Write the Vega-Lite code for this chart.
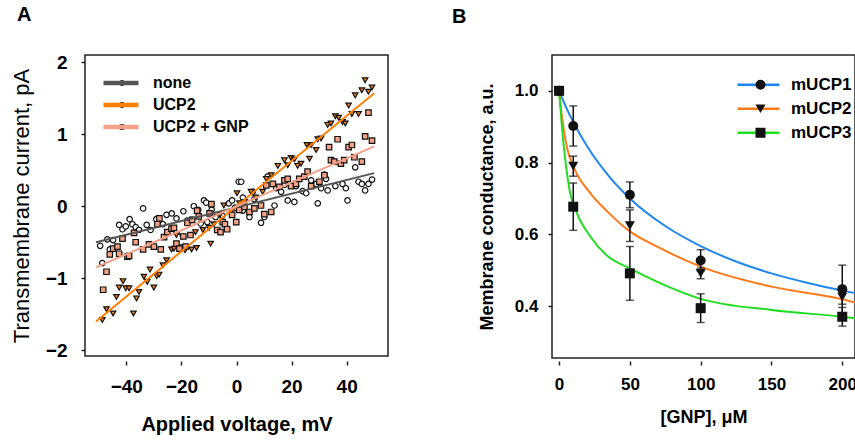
{
  "$schema": "https://vega.github.io/schema/vega-lite/v6.json",
  "padding": {"left": 9, "top": 4, "right": 0, "bottom": 0},
  "spacing": 62,
  "resolve": {"scale": {"color": "independent", "shape": "independent", "fill": "independent"}, "legend": {"color": "independent", "shape": "independent", "fill": "independent"}},
  "config": {
    "font": "Liberation Sans",
    "view": {"stroke": "#222222", "strokeWidth": 1.5},
    "axis": {"grid": false, "domain": false, "tickColor": "#222222", "tickWidth": 1.5, "tickSize": 4, "labelColor": "#000000", "titleColor": "#000000", "labelFontWeight": "bold", "labelFlush": false, "labelOverlap": false}
  },
  "datasets": {
    "ivPoints": [
      {"condition": "none", "voltage": -48.7, "current": -0.79},
      {"condition": "none", "voltage": -49.5, "current": -0.55},
      {"condition": "none", "voltage": -46.9, "current": -0.46},
      {"condition": "none", "voltage": -46.0, "current": -0.60},
      {"condition": "none", "voltage": -44.8, "current": -0.47},
      {"condition": "none", "voltage": -42.6, "current": -0.26},
      {"condition": "none", "voltage": -41.4, "current": -0.32},
      {"condition": "none", "voltage": -40.2, "current": -0.28},
      {"condition": "none", "voltage": -38.8, "current": -0.18},
      {"condition": "none", "voltage": -37.8, "current": -0.25},
      {"condition": "none", "voltage": -36.6, "current": -0.29},
      {"condition": "none", "voltage": -35.4, "current": -0.33},
      {"condition": "none", "voltage": -33.9, "current": -0.03},
      {"condition": "none", "voltage": -32.6, "current": -0.26},
      {"condition": "none", "voltage": -31.2, "current": -0.33},
      {"condition": "none", "voltage": -29.1, "current": -0.18},
      {"condition": "none", "voltage": -27.9, "current": -0.23},
      {"condition": "none", "voltage": -26.7, "current": -0.25},
      {"condition": "none", "voltage": -25.4, "current": -0.12},
      {"condition": "none", "voltage": -23.5, "current": -0.10},
      {"condition": "none", "voltage": -21.8, "current": -0.17},
      {"condition": "none", "voltage": -19.3, "current": -0.07},
      {"condition": "none", "voltage": -17.9, "current": -0.20},
      {"condition": "none", "voltage": -16.3, "current": -0.19},
      {"condition": "none", "voltage": -15.5, "current": 0.00},
      {"condition": "none", "voltage": -13.9, "current": -0.05},
      {"condition": "none", "voltage": -13.0, "current": -0.24},
      {"condition": "none", "voltage": -11.8, "current": 0.08},
      {"condition": "none", "voltage": -11.0, "current": 0.05},
      {"condition": "none", "voltage": -10.6, "current": -0.22},
      {"condition": "none", "voltage": -9.0, "current": -0.05},
      {"condition": "none", "voltage": -7.6, "current": -0.15},
      {"condition": "none", "voltage": -5.2, "current": -0.13},
      {"condition": "none", "voltage": -2.8, "current": 0.04},
      {"condition": "none", "voltage": -1.6, "current": 0.08},
      {"condition": "none", "voltage": -0.5, "current": -0.02},
      {"condition": "none", "voltage": 0.8, "current": 0.34},
      {"condition": "none", "voltage": 1.7, "current": 0.34},
      {"condition": "none", "voltage": 2.3, "current": 0.12},
      {"condition": "none", "voltage": 2.3, "current": -0.06},
      {"condition": "none", "voltage": 4.7, "current": -0.15},
      {"condition": "none", "voltage": 5.9, "current": 0.20},
      {"condition": "none", "voltage": 6.5, "current": 0.10},
      {"condition": "none", "voltage": 8.9, "current": -0.23},
      {"condition": "none", "voltage": 10.1, "current": -0.15},
      {"condition": "none", "voltage": 11.3, "current": 0.41},
      {"condition": "none", "voltage": 13.8, "current": 0.01},
      {"condition": "none", "voltage": 14.4, "current": 0.25},
      {"condition": "none", "voltage": 16.2, "current": 0.20},
      {"condition": "none", "voltage": 17.5, "current": 0.30},
      {"condition": "none", "voltage": 18.6, "current": 0.08},
      {"condition": "none", "voltage": 21.0, "current": 0.06},
      {"condition": "none", "voltage": 21.6, "current": 0.28},
      {"condition": "none", "voltage": 24.0, "current": 0.21},
      {"condition": "none", "voltage": 25.3, "current": 0.18},
      {"condition": "none", "voltage": 27.1, "current": 0.36},
      {"condition": "none", "voltage": 28.9, "current": 0.31},
      {"condition": "none", "voltage": 29.5, "current": 0.04},
      {"condition": "none", "voltage": 30.7, "current": 0.25},
      {"condition": "none", "voltage": 31.9, "current": 0.44},
      {"condition": "none", "voltage": 32.5, "current": 0.38},
      {"condition": "none", "voltage": 33.1, "current": 0.22},
      {"condition": "none", "voltage": 35.9, "current": 0.28},
      {"condition": "none", "voltage": 38.5, "current": 0.31},
      {"condition": "none", "voltage": 39.7, "current": 0.25},
      {"condition": "none", "voltage": 40.3, "current": 0.08},
      {"condition": "none", "voltage": 43.1, "current": 0.54},
      {"condition": "none", "voltage": 44.3, "current": 0.34},
      {"condition": "none", "voltage": 45.5, "current": 0.31},
      {"condition": "none", "voltage": 46.7, "current": 0.22},
      {"condition": "none", "voltage": 47.9, "current": 0.31},
      {"condition": "none", "voltage": 49.2, "current": 0.37},
      {"condition": "UCP2", "voltage": -48.7, "current": -1.58},
      {"condition": "UCP2", "voltage": -47.2, "current": -1.43},
      {"condition": "UCP2", "voltage": -44.8, "current": -1.49},
      {"condition": "UCP2", "voltage": -43.6, "current": -1.26},
      {"condition": "UCP2", "voltage": -42.6, "current": -1.13},
      {"condition": "UCP2", "voltage": -41.2, "current": -1.04},
      {"condition": "UCP2", "voltage": -40.2, "current": -1.14},
      {"condition": "UCP2", "voltage": -39.0, "current": -1.14},
      {"condition": "UCP2", "voltage": -37.4, "current": -1.49},
      {"condition": "UCP2", "voltage": -36.3, "current": -1.28},
      {"condition": "UCP2", "voltage": -35.4, "current": -1.19},
      {"condition": "UCP2", "voltage": -33.6, "current": -0.98},
      {"condition": "UCP2", "voltage": -32.4, "current": -1.05},
      {"condition": "UCP2", "voltage": -31.4, "current": -0.88},
      {"condition": "UCP2", "voltage": -30.0, "current": -1.13},
      {"condition": "UCP2", "voltage": -29.0, "current": -0.97},
      {"condition": "UCP2", "voltage": -28.1, "current": -0.95},
      {"condition": "UCP2", "voltage": -26.7, "current": -0.82},
      {"condition": "UCP2", "voltage": -25.4, "current": -0.75},
      {"condition": "UCP2", "voltage": -23.6, "current": -0.60},
      {"condition": "UCP2", "voltage": -22.7, "current": -0.59},
      {"condition": "UCP2", "voltage": -21.8, "current": -0.40},
      {"condition": "UCP2", "voltage": -20.3, "current": -0.57},
      {"condition": "UCP2", "voltage": -19.7, "current": -0.42},
      {"condition": "UCP2", "voltage": -18.7, "current": -0.61},
      {"condition": "UCP2", "voltage": -16.3, "current": -0.60},
      {"condition": "UCP2", "voltage": -14.9, "current": -0.36},
      {"condition": "UCP2", "voltage": -14.5, "current": -0.58},
      {"condition": "UCP2", "voltage": -12.2, "current": -0.33},
      {"condition": "UCP2", "voltage": -10.0, "current": -0.30},
      {"condition": "UCP2", "voltage": -9.4, "current": -0.52},
      {"condition": "UCP2", "voltage": -8.2, "current": -0.25},
      {"condition": "UCP2", "voltage": -6.0, "current": -0.12},
      {"condition": "UCP2", "voltage": -4.6, "current": 0.01},
      {"condition": "UCP2", "voltage": -2.0, "current": -0.08},
      {"condition": "UCP2", "voltage": 0.2, "current": 0.18},
      {"condition": "UCP2", "voltage": 1.1, "current": 0.04},
      {"condition": "UCP2", "voltage": 3.0, "current": 0.06},
      {"condition": "UCP2", "voltage": 5.3, "current": 0.20},
      {"condition": "UCP2", "voltage": 7.0, "current": 0.12},
      {"condition": "UCP2", "voltage": 9.5, "current": 0.20},
      {"condition": "UCP2", "voltage": 10.8, "current": 0.38},
      {"condition": "UCP2", "voltage": 12.6, "current": 0.43},
      {"condition": "UCP2", "voltage": 15.0, "current": 0.56},
      {"condition": "UCP2", "voltage": 17.4, "current": 0.64},
      {"condition": "UCP2", "voltage": 18.6, "current": 0.57},
      {"condition": "UCP2", "voltage": 19.8, "current": 0.67},
      {"condition": "UCP2", "voltage": 21.0, "current": 0.65},
      {"condition": "UCP2", "voltage": 22.2, "current": 0.56},
      {"condition": "UCP2", "voltage": 23.4, "current": 0.59},
      {"condition": "UCP2", "voltage": 25.6, "current": 0.85},
      {"condition": "UCP2", "voltage": 26.5, "current": 0.66},
      {"condition": "UCP2", "voltage": 27.1, "current": 0.85},
      {"condition": "UCP2", "voltage": 28.9, "current": 0.78},
      {"condition": "UCP2", "voltage": 29.5, "current": 0.93},
      {"condition": "UCP2", "voltage": 30.7, "current": 0.94},
      {"condition": "UCP2", "voltage": 33.1, "current": 1.13},
      {"condition": "UCP2", "voltage": 34.3, "current": 1.15},
      {"condition": "UCP2", "voltage": 35.9, "current": 1.25},
      {"condition": "UCP2", "voltage": 37.1, "current": 1.23},
      {"condition": "UCP2", "voltage": 38.5, "current": 1.17},
      {"condition": "UCP2", "voltage": 39.5, "current": 1.15},
      {"condition": "UCP2", "voltage": 40.7, "current": 1.40},
      {"condition": "UCP2", "voltage": 41.9, "current": 1.28},
      {"condition": "UCP2", "voltage": 43.1, "current": 1.54},
      {"condition": "UCP2", "voltage": 44.3, "current": 1.28},
      {"condition": "UCP2", "voltage": 45.5, "current": 1.61},
      {"condition": "UCP2", "voltage": 46.7, "current": 1.75},
      {"condition": "UCP2", "voltage": 47.9, "current": 1.59},
      {"condition": "UCP2", "voltage": 49.2, "current": 1.65},
      {"condition": "UCP2 + GNP", "voltage": -48.4, "current": -1.16},
      {"condition": "UCP2 + GNP", "voltage": -47.2, "current": -0.91},
      {"condition": "UCP2 + GNP", "voltage": -46.0, "current": -0.67},
      {"condition": "UCP2 + GNP", "voltage": -44.8, "current": -0.59},
      {"condition": "UCP2 + GNP", "voltage": -43.2, "current": -0.56},
      {"condition": "UCP2 + GNP", "voltage": -42.6, "current": -0.66},
      {"condition": "UCP2 + GNP", "voltage": -41.4, "current": -0.45},
      {"condition": "UCP2 + GNP", "voltage": -39.6, "current": -0.70},
      {"condition": "UCP2 + GNP", "voltage": -39.0, "current": -0.69},
      {"condition": "UCP2 + GNP", "voltage": -37.2, "current": -0.37},
      {"condition": "UCP2 + GNP", "voltage": -36.6, "current": -0.50},
      {"condition": "UCP2 + GNP", "voltage": -33.9, "current": -0.60},
      {"condition": "UCP2 + GNP", "voltage": -31.8, "current": -0.53},
      {"condition": "UCP2 + GNP", "voltage": -30.0, "current": -0.56},
      {"condition": "UCP2 + GNP", "voltage": -28.7, "current": -0.25},
      {"condition": "UCP2 + GNP", "voltage": -28.0, "current": -0.17},
      {"condition": "UCP2 + GNP", "voltage": -27.5, "current": -0.60},
      {"condition": "UCP2 + GNP", "voltage": -26.3, "current": -0.43},
      {"condition": "UCP2 + GNP", "voltage": -25.1, "current": -0.36},
      {"condition": "UCP2 + GNP", "voltage": -23.6, "current": -0.31},
      {"condition": "UCP2 + GNP", "voltage": -22.7, "current": -0.30},
      {"condition": "UCP2 + GNP", "voltage": -21.8, "current": -0.52},
      {"condition": "UCP2 + GNP", "voltage": -20.7, "current": -0.59},
      {"condition": "UCP2 + GNP", "voltage": -19.3, "current": -0.42},
      {"condition": "UCP2 + GNP", "voltage": -18.5, "current": -0.56},
      {"condition": "UCP2 + GNP", "voltage": -17.8, "current": -0.23},
      {"condition": "UCP2 + GNP", "voltage": -16.7, "current": -0.40},
      {"condition": "UCP2 + GNP", "voltage": -16.1, "current": -0.19},
      {"condition": "UCP2 + GNP", "voltage": -14.3, "current": -0.06},
      {"condition": "UCP2 + GNP", "voltage": -13.7, "current": -0.14},
      {"condition": "UCP2 + GNP", "voltage": -9.8, "current": -0.10},
      {"condition": "UCP2 + GNP", "voltage": -9.1, "current": 0.03},
      {"condition": "UCP2 + GNP", "voltage": -7.0, "current": -0.33},
      {"condition": "UCP2 + GNP", "voltage": -5.8, "current": -0.36},
      {"condition": "UCP2 + GNP", "voltage": -5.0, "current": -0.22},
      {"condition": "UCP2 + GNP", "voltage": -4.2, "current": -0.25},
      {"condition": "UCP2 + GNP", "voltage": -3.4, "current": -0.32},
      {"condition": "UCP2 + GNP", "voltage": -1.6, "current": -0.12},
      {"condition": "UCP2 + GNP", "voltage": -0.1, "current": -0.22},
      {"condition": "UCP2 + GNP", "voltage": 1.0, "current": -0.05},
      {"condition": "UCP2 + GNP", "voltage": 2.9, "current": -0.01},
      {"condition": "UCP2 + GNP", "voltage": 4.7, "current": -0.08},
      {"condition": "UCP2 + GNP", "voltage": 6.5, "current": -0.03},
      {"condition": "UCP2 + GNP", "voltage": 8.9, "current": 0.01},
      {"condition": "UCP2 + GNP", "voltage": 10.1, "current": -0.11},
      {"condition": "UCP2 + GNP", "voltage": 10.8, "current": 0.29},
      {"condition": "UCP2 + GNP", "voltage": 12.6, "current": -0.08},
      {"condition": "UCP2 + GNP", "voltage": 13.2, "current": 0.31},
      {"condition": "UCP2 + GNP", "voltage": 15.6, "current": 0.27},
      {"condition": "UCP2 + GNP", "voltage": 17.4, "current": 0.36},
      {"condition": "UCP2 + GNP", "voltage": 18.6, "current": 0.38},
      {"condition": "UCP2 + GNP", "voltage": 19.8, "current": 0.28},
      {"condition": "UCP2 + GNP", "voltage": 21.6, "current": 0.31},
      {"condition": "UCP2 + GNP", "voltage": 22.8, "current": 0.38},
      {"condition": "UCP2 + GNP", "voltage": 24.6, "current": 0.41},
      {"condition": "UCP2 + GNP", "voltage": 25.8, "current": 0.48},
      {"condition": "UCP2 + GNP", "voltage": 27.1, "current": 0.28},
      {"condition": "UCP2 + GNP", "voltage": 30.1, "current": 0.34},
      {"condition": "UCP2 + GNP", "voltage": 31.9, "current": 0.43},
      {"condition": "UCP2 + GNP", "voltage": 33.6, "current": 0.82},
      {"condition": "UCP2 + GNP", "voltage": 34.3, "current": 0.64},
      {"condition": "UCP2 + GNP", "voltage": 35.5, "current": 0.62},
      {"condition": "UCP2 + GNP", "voltage": 36.7, "current": 0.93},
      {"condition": "UCP2 + GNP", "voltage": 37.9, "current": 0.59},
      {"condition": "UCP2 + GNP", "voltage": 39.1, "current": 0.64},
      {"condition": "UCP2 + GNP", "voltage": 40.7, "current": 0.82},
      {"condition": "UCP2 + GNP", "voltage": 41.9, "current": 0.85},
      {"condition": "UCP2 + GNP", "voltage": 42.8, "current": 0.68},
      {"condition": "UCP2 + GNP", "voltage": 45.5, "current": 0.62},
      {"condition": "UCP2 + GNP", "voltage": 46.7, "current": 0.97},
      {"condition": "UCP2 + GNP", "voltage": 47.9, "current": 1.30},
      {"condition": "UCP2 + GNP", "voltage": 49.2, "current": 0.91}
    ],
    "ivFits": [
      {"condition": "none", "voltage": -51, "current": -0.5},
      {"condition": "none", "voltage": 50, "current": 0.46},
      {"condition": "UCP2", "voltage": -51, "current": -1.6},
      {"condition": "UCP2", "voltage": 50, "current": 1.57},
      {"condition": "UCP2 + GNP", "voltage": -51, "current": -0.85},
      {"condition": "UCP2 + GNP", "voltage": 50, "current": 0.83}
    ],
    "gnpPoints": [
      {"protein": "mUCP1", "gnp": 0, "conductance": 1.0, "lo": 1.0, "hi": 1.0},
      {"protein": "mUCP1", "gnp": 10, "conductance": 0.902, "lo": 0.846, "hi": 0.958},
      {"protein": "mUCP1", "gnp": 50, "conductance": 0.71, "lo": 0.674, "hi": 0.746},
      {"protein": "mUCP1", "gnp": 100, "conductance": 0.527, "lo": 0.497, "hi": 0.557},
      {"protein": "mUCP1", "gnp": 200, "conductance": 0.447, "lo": 0.38, "hi": 0.514},
      {"protein": "mUCP2", "gnp": 0, "conductance": 1.0, "lo": 1.0, "hi": 1.0},
      {"protein": "mUCP2", "gnp": 10, "conductance": 0.79, "lo": 0.762, "hi": 0.818},
      {"protein": "mUCP2", "gnp": 50, "conductance": 0.624, "lo": 0.58, "hi": 0.668},
      {"protein": "mUCP2", "gnp": 100, "conductance": 0.491, "lo": 0.476, "hi": 0.506},
      {"protein": "mUCP2", "gnp": 200, "conductance": 0.425, "lo": 0.405, "hi": 0.445},
      {"protein": "mUCP3", "gnp": 0, "conductance": 1.0, "lo": 1.0, "hi": 1.0},
      {"protein": "mUCP3", "gnp": 10, "conductance": 0.677, "lo": 0.611, "hi": 0.743},
      {"protein": "mUCP3", "gnp": 50, "conductance": 0.491, "lo": 0.416, "hi": 0.566},
      {"protein": "mUCP3", "gnp": 100, "conductance": 0.394, "lo": 0.354, "hi": 0.434},
      {"protein": "mUCP3", "gnp": 200, "conductance": 0.37, "lo": 0.344, "hi": 0.396}
    ],
    "gnpFits": [
      {"protein": "mUCP1", "gnp": 0, "conductance": 1.0},
      {"protein": "mUCP1", "gnp": 2, "conductance": 0.981},
      {"protein": "mUCP1", "gnp": 5, "conductance": 0.954},
      {"protein": "mUCP1", "gnp": 10, "conductance": 0.913},
      {"protein": "mUCP1", "gnp": 20, "conductance": 0.844},
      {"protein": "mUCP1", "gnp": 35, "conductance": 0.763},
      {"protein": "mUCP1", "gnp": 50, "conductance": 0.7},
      {"protein": "mUCP1", "gnp": 75, "conductance": 0.623},
      {"protein": "mUCP1", "gnp": 100, "conductance": 0.567},
      {"protein": "mUCP1", "gnp": 125, "conductance": 0.524},
      {"protein": "mUCP1", "gnp": 150, "conductance": 0.491},
      {"protein": "mUCP1", "gnp": 175, "conductance": 0.465},
      {"protein": "mUCP1", "gnp": 200, "conductance": 0.443},
      {"protein": "mUCP1", "gnp": 209, "conductance": 0.436},
      {"protein": "mUCP2", "gnp": 0, "conductance": 1.0},
      {"protein": "mUCP2", "gnp": 2, "conductance": 0.93},
      {"protein": "mUCP2", "gnp": 5.4, "conductance": 0.845},
      {"protein": "mUCP2", "gnp": 10, "conductance": 0.79},
      {"protein": "mUCP2", "gnp": 22, "conductance": 0.715},
      {"protein": "mUCP2", "gnp": 34, "conductance": 0.664},
      {"protein": "mUCP2", "gnp": 50, "conductance": 0.608},
      {"protein": "mUCP2", "gnp": 69, "conductance": 0.566},
      {"protein": "mUCP2", "gnp": 100, "conductance": 0.51},
      {"protein": "mUCP2", "gnp": 150, "conductance": 0.454},
      {"protein": "mUCP2", "gnp": 200, "conductance": 0.419},
      {"protein": "mUCP2", "gnp": 209, "conductance": 0.41},
      {"protein": "mUCP3", "gnp": 0, "conductance": 1.0},
      {"protein": "mUCP3", "gnp": 1, "conductance": 0.95},
      {"protein": "mUCP3", "gnp": 2, "conductance": 0.9},
      {"protein": "mUCP3", "gnp": 4.3, "conductance": 0.81},
      {"protein": "mUCP3", "gnp": 7.8, "conductance": 0.715},
      {"protein": "mUCP3", "gnp": 12.5, "conductance": 0.66},
      {"protein": "mUCP3", "gnp": 22, "conductance": 0.594},
      {"protein": "mUCP3", "gnp": 34, "conductance": 0.54},
      {"protein": "mUCP3", "gnp": 50, "conductance": 0.505},
      {"protein": "mUCP3", "gnp": 69, "conductance": 0.468},
      {"protein": "mUCP3", "gnp": 100, "conductance": 0.42},
      {"protein": "mUCP3", "gnp": 150, "conductance": 0.389},
      {"protein": "mUCP3", "gnp": 200, "conductance": 0.37},
      {"protein": "mUCP3", "gnp": 209, "conductance": 0.366}
    ]
  },
  "hconcat": [
    {
      "title": {"text": "A", "anchor": "start", "frame": "group", "dx": -68, "offset": 28, "fontSize": 20, "fontWeight": "bold", "color": "#000000"},
      "width": 303,
      "height": 301,
      "encoding": {
        "x": {"field": "voltage", "type": "quantitative", "scale": {"domain": [-55, 55], "nice": false, "zero": false},
          "axis": {"title": "Applied voltage, mV", "values": [-40, -20, 0, 20, 40], "offset": 5, "labelFontSize": 19, "labelPadding": 12, "titleFontSize": 20, "titleFontWeight": "bold", "titlePadding": 18}},
        "y": {"field": "current", "type": "quantitative", "scale": {"domain": [-2.08, 2.1], "nice": false, "zero": false},
          "axis": {"title": "Transmembrane current, pA", "values": [-2, -1, 0, 1, 2], "format": "d", "labelFontSize": 19, "labelPadding": 14, "titleFontSize": 22, "titleFontWeight": "normal", "titlePadding": 12}}
      },
      "layer": [
        {
          "data": {"name": "ivPoints"},
          "mark": {"type": "point", "filled": true, "stroke": "#111111", "strokeWidth": 1.2, "size": 30, "opacity": 1},
          "encoding": {
            "shape": {"field": "condition", "type": "nominal", "sort": ["none", "UCP2", "UCP2 + GNP"], "scale": {"range": ["circle", "triangle-down", "square"]},
              "legend": {"title": null, "orient": "none", "legendX": 29, "legendY": 17, "symbolSize": 25, "symbolStrokeColor": "#111111", "symbolStrokeWidth": 1, "labelOpacity": 0, "labelFontSize": 16, "labelFontWeight": "bold", "clipHeight": 22, "rowPadding": 0, "padding": 0}},
            "fill": {"field": "condition", "type": "nominal", "sort": ["none", "UCP2", "UCP2 + GNP"], "scale": {"range": ["#ffffff", "#F07E10", "#F4A285"]},
              "legend": {"title": null, "orient": "none", "legendX": 29, "legendY": 17, "symbolSize": 25, "symbolStrokeColor": "#111111", "symbolStrokeWidth": 1, "labelOpacity": 0, "labelFontSize": 16, "labelFontWeight": "bold", "clipHeight": 22, "rowPadding": 0, "padding": 0}}
          }
        },
        {
          "data": {"name": "ivFits"},
          "mark": {"type": "line", "strokeWidth": 2},
          "encoding": {
            "color": {"field": "condition", "type": "nominal", "sort": ["none", "UCP2", "UCP2 + GNP"], "scale": {"range": ["#555555", "#FF7F00", "#F5A088"]},
              "legend": {"title": null, "orient": "none", "legendX": 16, "legendY": 17, "symbolType": "stroke", "symbolSize": 1225, "symbolStrokeWidth": 4.5, "labelFontSize": 16, "labelFontWeight": "bold", "labelColor": "#000000", "labelOffset": 12, "clipHeight": 22, "rowPadding": 0, "padding": 0}}
          }
        }
      ]
    },
    {
      "title": {"text": "B", "anchor": "start", "frame": "group", "dx": -100, "offset": 28, "fontSize": 20, "fontWeight": "bold", "color": "#000000"},
      "width": 303,
      "height": 303,
      "encoding": {
        "x": {"field": "gnp", "type": "quantitative", "scale": {"domain": [-5, 209], "nice": false, "zero": false},
          "axis": {"title": "[GNP], μM", "values": [0, 50, 100, 150, 200], "offset": 3, "labelFontSize": 17, "labelPadding": 11, "titleFontSize": 18, "titleFontWeight": "bold", "titlePadding": 16}},
        "y": {"field": "conductance", "type": "quantitative", "scale": {"domain": [0.255, 1.1], "nice": false, "zero": false},
          "axis": {"title": "Membrane conductance, a.u.", "values": [0.4, 0.6, 0.8, 1.0], "format": ".1f", "labelFontSize": 17, "labelPadding": 10, "titleFontSize": 18, "titleFontWeight": "bold", "titlePadding": 18}}
      },
      "layer": [
        {
          "data": {"name": "gnpFits"},
          "mark": {"type": "line", "strokeWidth": 2, "interpolate": "monotone"},
          "encoding": {
            "color": {"field": "protein", "type": "nominal", "sort": ["mUCP1", "mUCP2", "mUCP3"], "scale": {"range": ["#1E88F0", "#FF7A1A", "#22DD22"]},
              "legend": {"title": null, "orient": "none", "legendX": 184, "legendY": 18, "symbolType": "stroke", "symbolSize": 1764, "symbolStrokeWidth": 2.5, "labelFontSize": 17, "labelFontWeight": "bold", "labelColor": "#000000", "labelOffset": 10, "clipHeight": 23.5, "rowPadding": 0, "padding": 0}}
          }
        },
        {
          "data": {"name": "gnpPoints"},
          "mark": {"type": "rule", "color": "#111111", "strokeWidth": 1.5},
          "encoding": {"y": {"field": "lo", "type": "quantitative"}, "y2": {"field": "hi"}}
        },
        {
          "data": {"name": "gnpPoints"},
          "mark": {"type": "tick", "orient": "horizontal", "color": "#111111", "thickness": 1.5, "size": 8},
          "encoding": {"y": {"field": "lo", "type": "quantitative"}}
        },
        {
          "data": {"name": "gnpPoints"},
          "mark": {"type": "tick", "orient": "horizontal", "color": "#111111", "thickness": 1.5, "size": 8},
          "encoding": {"y": {"field": "hi", "type": "quantitative"}}
        },
        {
          "data": {"name": "gnpPoints"},
          "mark": {"type": "point", "filled": true, "color": "#111111", "size": 100, "opacity": 1},
          "encoding": {
            "shape": {"field": "protein", "type": "nominal", "sort": ["mUCP1", "mUCP2", "mUCP3"], "scale": {"range": ["circle", "triangle-down", "square"]},
              "legend": {"title": null, "orient": "none", "legendX": 200, "legendY": 18, "symbolSize": 100, "symbolFillColor": "#111111", "symbolStrokeColor": "#111111", "symbolStrokeWidth": 0, "labelOpacity": 0, "labelFontSize": 17, "clipHeight": 23.5, "rowPadding": 0, "padding": 0}}
          }
        }
      ]
    }
  ]
}
